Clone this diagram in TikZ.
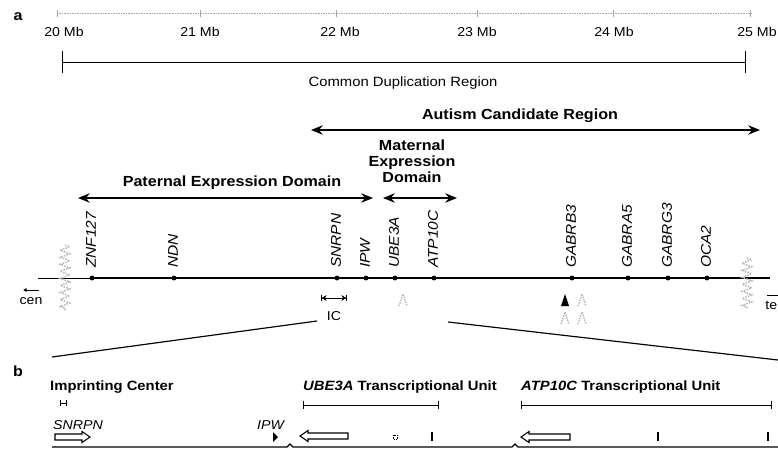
\documentclass[tikz,border=0pt]{standalone}
\usepackage{fontspec}
\setmainfont{Liberation Sans}[FakeStretch=1.1]
\usetikzlibrary{arrows.meta,decorations.pathmorphing}

\begin{document}
\begin{tikzpicture}[x=0.03cm, y=-0.03cm,
  every node/.style={font=\fontsize{11}{12}\selectfont, inner sep=0pt},
  lbl/.style={font=\fontsize{12.5}{13.6}\selectfont\bfseries},
  unitlbl/.style={font=\fontsize{11.5}{13}\selectfont\bfseries, anchor=west},
  genelbl/.style={font=\fontsize{12}{13}\selectfont\itshape, rotate=90, anchor=west},
  locus/.style={circle, fill=black, minimum size=4.2pt},
  domarrow/.style={{Stealth[length=10pt,width=8pt]}-{Stealth[length=10pt,width=8pt]}, line width=1.3pt},
  unitbar/.style={{Bar[width=6pt]}-{Bar[width=6pt]}, line width=0.7pt},
  breakz/.style={draw=gray!55, line width=1.3pt, densely dotted, decorate, decoration={zigzag, segment length=6pt, amplitude=4pt}},
  hollow/.style={draw, line width=0.9pt, fill=white},
  delta/.style={draw=gray!60, densely dotted, line width=1.2pt}]
\useasboundingbox (0,0) rectangle (778,464);
% panel a: scale in Mb
\node[lbl] (pa) at (18,17) {a};
\draw[densely dotted, gray!70] (57,13) -- (752,13);
\foreach \x/\lx/\t in {57/64/20, 200/200/21, 336/340/22, 477/477/23, 613/614/24, 750/757/25} {
  \draw[gray!70] (\x,10) -- (\x,17);
  \node (mb\t) at (\lx,32) {\t{} Mb};
}
% common duplication region
\coordinate (cdL) at (62,62);
\coordinate (cdR) at (746,62);
\draw[{Bar[width=18pt]}-{Bar[width=18pt]}, line width=0.8pt] (cdL) -- (cdR);
\node[font=\fontsize{11.5}{12}\selectfont] (cdlbl) at (403,83) {Common Duplication Region};
% autism candidate region and the two domains
\coordinate (acL) at (311,130);
\coordinate (acR) at (760,130);
\draw[domarrow] (acL) -- (acR);
\node[lbl] (aclbl) at (520,116) {Autism Candidate Region};
\coordinate (pdL) at (78,198);
\coordinate (pdR) at (373,198);
\draw[domarrow] (pdL) -- (pdR);
\node[lbl] (pdlbl) at (232,183) {Paternal Expression Domain};
\coordinate (mdL) at (383,198);
\coordinate (mdR) at (457,198);
\draw[domarrow] (mdL) -- (mdR);
\node[lbl, align=center] (mdlbl) at (412,161) {Maternal\\Expression\\Domain};
% chromosome with loci
\draw[line width=0.5pt] (38,278) -- (90,278);
\draw[line width=1.2pt] (90,278) -- (770,278);
\foreach \x/\n/\t in {92/znf/ZNF127, 174/ndn/NDN, 337/snrpn/SNRPN, 366/ipw/IPW, 395/ube/UBE3A,
  434/atp/ATP10C, 572/gabrb/GABRB3, 628/gabra/GABRA5, 668/gabrg/GABRG3, 707/oca/OCA2} {
  \node[locus] (\n) at (\x,278) {};
  \node[genelbl] (\n-l) at (\x-1,268) {\t};
}
\draw[breakz] (65,245) -- (65,310);
\draw[breakz] (747,258) -- (747,308);
% orientation
\node (cen) at (31,301) {cen};
\coordinate (cenA) at (39,290);
\coordinate (cenB) at (23,290);
\draw[-{Latex[length=3pt,width=3.5pt]}, line width=0.8pt] (cenA) -- (cenB);
\node[anchor=east] (tel) at (777.5,305) {te};
\coordinate (telA) at (767,295);
\coordinate (telB) at (782,295);
\draw[line width=0.8pt] (telA) -- (telB);
% imprinting center
\coordinate (icL) at (321,298);
\coordinate (icR) at (347,298);
\draw[{Bar[width=5pt]Stealth[length=4pt,width=5pt]}-{Stealth[length=4pt,width=5pt]Bar[width=5pt]}, line width=0.7pt] (icL) -- (icR);
\node (iclbl) at (334,316) {IC};
% deletions / variants
\foreach \x/\y in {403/300, 582/300, 565/318, 582/318}
  \draw[delta] (\x-4,\y+6) -- (\x,\y-6) -- (\x+4,\y+6);
\fill (561,306) -- (565,294) -- (569,306) -- cycle;
% zoom lines
\coordinate (zl1) at (317,321);
\coordinate (zl2) at (52,357);
\coordinate (zr1) at (448,322);
\coordinate (zr2) at (778,360);
\draw[line width=1pt] (zl1) -- (zl2);
\draw[line width=1pt] (zr1) -- (zr2);
% panel b
\node[lbl] (pb) at (18,371) {b};
\node[unitlbl] (imp) at (50,387) {Imprinting Center};
\draw[{Bar[width=5pt]}-{Bar[width=5pt]}, line width=0.6pt] (60,403) -- (67,403);
\node[unitlbl] (ubeu) at (303,387) {\textit{UBE3A} Transcriptional Unit};
\draw[unitbar] (303,405) -- (439,405);
\node[unitlbl] (atpu) at (521,387) {\textit{ATP10C} Transcriptional Unit};
\draw[unitbar] (521,405) -- (772,405);
\node[anchor=west, font=\fontsize{11}{12}\selectfont\itshape] (snrpnb) at (53,425) {SNRPN};
\node[anchor=west, font=\fontsize{11}{12}\selectfont\itshape] (ipwb) at (257,425) {IPW};
% transcripts
\foreach \a/\b/\y in {55/90/437, 348/300/436, 570/521/437} {
  \pgfmathsetmacro{\h}{\b-8*sign(\b-\a)}
  \draw[hollow] (\a,\y-3) -- (\h,\y-3) -- (\h,\y-5.5) -- (\b,\y) -- (\h,\y+5.5) -- (\h,\y+3) -- (\a,\y+3) -- cycle;
}
\fill (273,432) -- (278,437) -- (273,442) -- cycle;
\draw[densely dotted] (393,435) rectangle (397,439);
\foreach \x in {432, 658, 768}
  \draw[line width=0.9pt] (\x,432) -- (\x,441);
\draw[line width=1pt] (52,447) -- (287,447) -- (290,444) -- (293,447) -- (512,447) -- (515,444) -- (518,447) -- (778,447);
\end{tikzpicture}
\end{document}
